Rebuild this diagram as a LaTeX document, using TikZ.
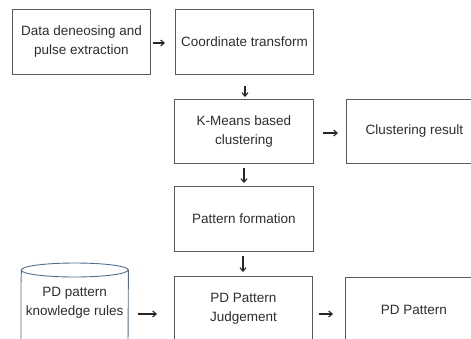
\documentclass[tikz,border=0pt]{standalone}
\usepackage{fontspec}
\setmainfont{Liberation Sans}
\usetikzlibrary{arrows.meta}
\definecolor{boxline}{HTML}{5A5A5A}
\definecolor{txt}{HTML}{2E2E2E}
\definecolor{cylline}{HTML}{4E7090}
\tikzset{
  box/.style={draw=boxline, line width=0.9pt, fill=white, inner sep=0pt, anchor=north west,
    align=center, text=txt, font=\fontsize{13.5}{19}\selectfont},
  arr/.style={draw=black!85, line width=1.1pt, -{Straight Barb[length=3.5pt,width=6pt,line width=1.1pt]}},
}
\begin{document}
\begin{tikzpicture}[x=1pt,y=-1pt]
\useasboundingbox (0,0) rectangle (471,338);
\clip (0,0) rectangle (471,338);
\fill[white] (0,0) rectangle (471,338);

\node[box, minimum width=138pt, minimum height=65pt] (b1) at (12,9) {Data deneosing and\\pulse extraction};
\node[box, minimum width=138pt, minimum height=65pt] (b2) at (175,9) {Coordinate transform};
\node[box, minimum width=139pt, minimum height=64pt] (b3) at (174,99) {K-Means based\\clustering};
\node[box, minimum width=136pt, minimum height=64pt] (b4) at (346,99) {Clustering result};
\node[box, minimum width=139pt, minimum height=65pt] (b5) at (174,186) {Pattern formation};
\node[box, minimum width=138pt, minimum height=65pt] (b6) at (174,276) {PD Pattern\\Judgement};
\node[box, minimum width=137pt, minimum height=64pt] (b7) at (345,277) {PD Pattern};

% cylinder (database)
\node[inner sep=0pt, minimum width=107pt, minimum height=61pt, anchor=north west,
  align=center, text=txt, font=\fontsize{13.5}{19}\selectfont] (cyl) at (21,277) {};
\draw[cylline, line width=0.9pt, fill=white]
  (cyl.north west) ++(0,7) -- ([yshift=-7pt]cyl.south west)
  arc[start angle=180, end angle=360, x radius=53.5pt, y radius=7pt]
  -- ([yshift=7pt]cyl.north east)
  arc[start angle=0, end angle=180, x radius=53.5pt, y radius=7pt] -- cycle;
\draw[cylline, line width=0.9pt]
  ([yshift=7pt]cyl.north west) arc[start angle=180, end angle=360, x radius=53.5pt, y radius=7pt];
\node[align=center, text=txt, font=\fontsize{13.5}{19}\selectfont, inner sep=0pt] (cyltxt) at ([yshift=5pt]cyl.center) {PD pattern\\knowledge rules};

% connectors
\draw[arr, shorten <=2pt, shorten >=10pt] (b1.east |- 0,43) -- (b2.west |- 0,43);
\draw[arr, shorten <=11pt, shorten >=2pt] (b2.south -| 245,0) -- (b3.north -| 245,0);
\draw[arr, shorten <=9pt, shorten >=8pt] (b3.east |- 0,133) -- (b4.west |- 0,133);
\draw[arr, shorten <=4pt, shorten >=3pt] (b3.south -| 244,0) -- (b5.north -| 244,0);
\draw[arr, shorten <=4pt, shorten >=4pt] (b5.south -| 243,0) -- (b6.north -| 243,0);
\draw[arr, shorten <=10pt, shorten >=17pt] (cyl.east |- 0,314) -- (b6.west |- 0,314);
\draw[arr, shorten <=6pt, shorten >=12pt] (b6.east |- 0,314) -- (b7.west |- 0,314);
\end{tikzpicture}
\end{document}
